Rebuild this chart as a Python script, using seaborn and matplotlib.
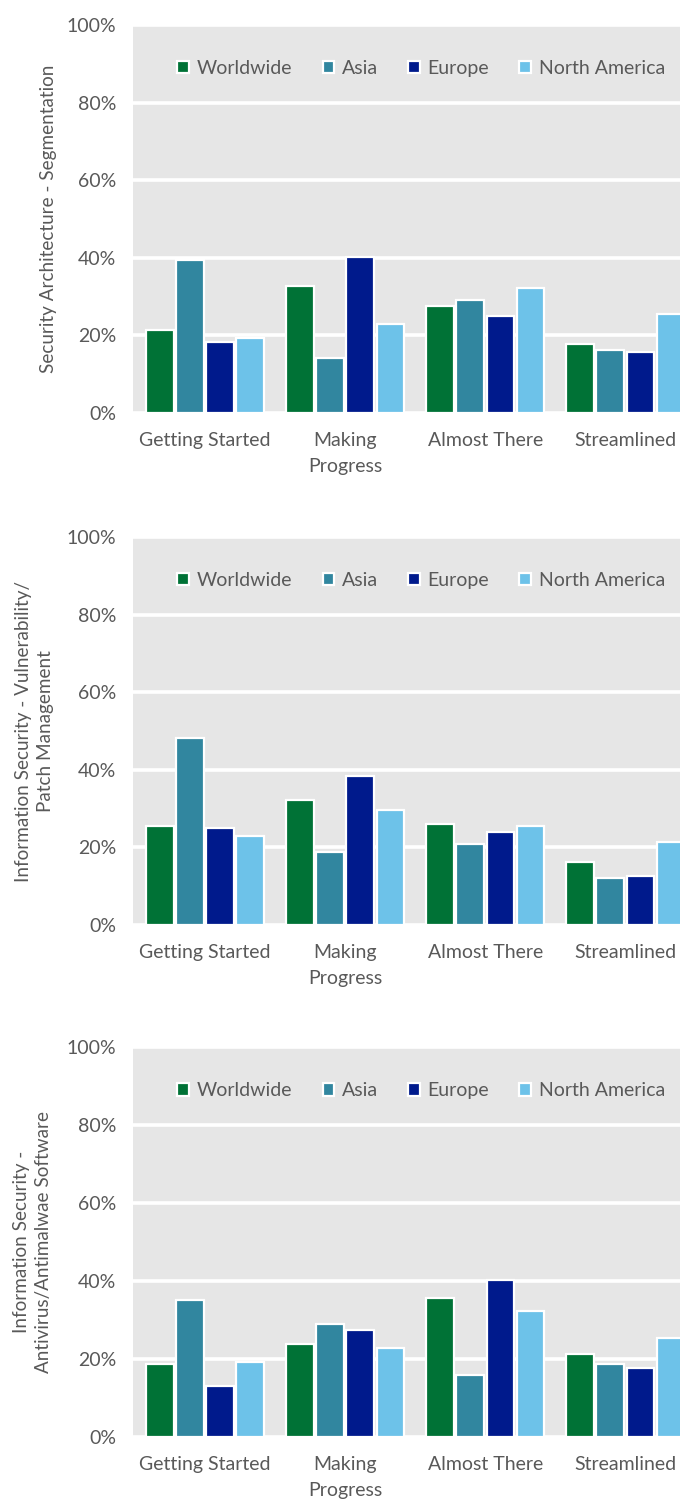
import pandas as pd
import matplotlib.pyplot as plt
import seaborn as sns
from matplotlib.ticker import PercentFormatter

# stages on the x axis
stages = ['Getting Started', 'Making Progress', 'Almost There', 'Streamlined']
stage_labels = ['Getting Started', 'Making\nProgress', 'Almost There', 'Streamlined']
regions = ['Worldwide', 'Asia', 'Europe', 'North America']

# panel 1: Security Architecture - Segmentation
seg_worldwide = [21.4, 32.7, 27.6, 17.8]
seg_asia = [39.4, 14.2, 29.1, 16.2]
seg_europe = [18.3, 40.2, 25.0, 15.7]
seg_namerica = [19.3, 22.9, 32.2, 25.5]

# panel 2: Vulnerability / Patch Management
vul_worldwide = [25.5, 32.2, 26.0, 16.2]
vul_asia = [48.2, 18.8, 20.9, 12.1]
vul_europe = [25.0, 38.4, 24.0, 12.6]
vul_namerica = [22.9, 29.6, 25.5, 21.4]

# panel 3: Antivirus / Antimalware Software
av_worldwide = [18.6, 23.8, 35.6, 21.2]
av_asia = [35.2, 28.9, 16.0, 18.6]
av_europe = [13.0, 27.5, 40.3, 17.6]
av_namerica = [19.1, 22.9, 32.2, 25.3]

ylabels = ['Security Architecture - Segmentation',
           'Information Security - Vulnerability/\nPatch Management',
           'Information Security -\nAntivirus/Antimalwae Software']

colors = ['#007236', '#31869F', '#001A8C', '#6DC2E9']
grey_txt = '#595959'

panels = [
    [seg_worldwide, seg_asia, seg_europe, seg_namerica],
    [vul_worldwide, vul_asia, vul_europe, vul_namerica],
    [av_worldwide, av_asia, av_europe, av_namerica],
]

sns.set_style('white')
plt.rcParams['font.family'] = ['Lato', 'DejaVu Sans']

fig = plt.figure(figsize=(6.8, 14.99), dpi=100)
# axes boxes in figure fractions (left, bottom, width, height)
boxes = [(0.1956, 0.7245, 0.8044, 0.2588),
         (0.1956, 0.3829, 0.8044, 0.2588),
         (0.1956, 0.0414, 0.8044, 0.2601)]
label_x = [-0.154, -0.18, -0.184]

for i, series in enumerate(panels):
    ax = fig.add_axes(boxes[i])
    rows = []
    for reg, vals in zip(regions, series):
        for st, v in zip(stages, vals):
            rows.append({'stage': st, 'region': reg, 'value': v / 100})
    df = pd.DataFrame(rows)

    sns.barplot(data=df, x='stage', y='value', hue='region', order=stages,
                hue_order=regions, palette=colors, width=0.86, gap=0.08,
                edgecolor='white', linewidth=1.6, saturation=1, ax=ax)

    ax.set_facecolor('#E6E6E6')
    ax.set_axisbelow(True)
    ax.yaxis.grid(True, color='white', linewidth=2.6)
    ax.set_ylim(0, 1)
    ax.set_yticks([0, 0.2, 0.4, 0.6, 0.8, 1.0])
    ax.yaxis.set_major_formatter(PercentFormatter(1.0, decimals=0))
    ax.set_xlim(-0.515, 3.39)
    ax.set_xticks(range(len(stages)))
    ax.set_xticklabels(stage_labels, linespacing=1.6)
    ax.tick_params(axis='both', length=0, labelsize=14, labelcolor=grey_txt)
    ax.tick_params(axis='x', pad=14)
    ax.tick_params(axis='y', pad=12)
    for s in ax.spines.values():
        s.set_visible(False)

    ax.set_xlabel('')
    ax.set_ylabel(ylabels[i], fontsize=13.6, color=grey_txt, va='center',
                  linespacing=1.35)
    ax.yaxis.set_label_coords(label_x[i], 0.5)

    handles, labels = ax.get_legend_handles_labels()
    ax.legend(handles, labels, ncol=4, loc='center', bbox_to_anchor=(0.527, 0.888),
              frameon=False, fontsize=14, labelcolor=grey_txt,
              handlelength=0.6, handleheight=0.6, handletextpad=0.4,
              columnspacing=1.55)

fig.savefig('out.png', dpi=100)
